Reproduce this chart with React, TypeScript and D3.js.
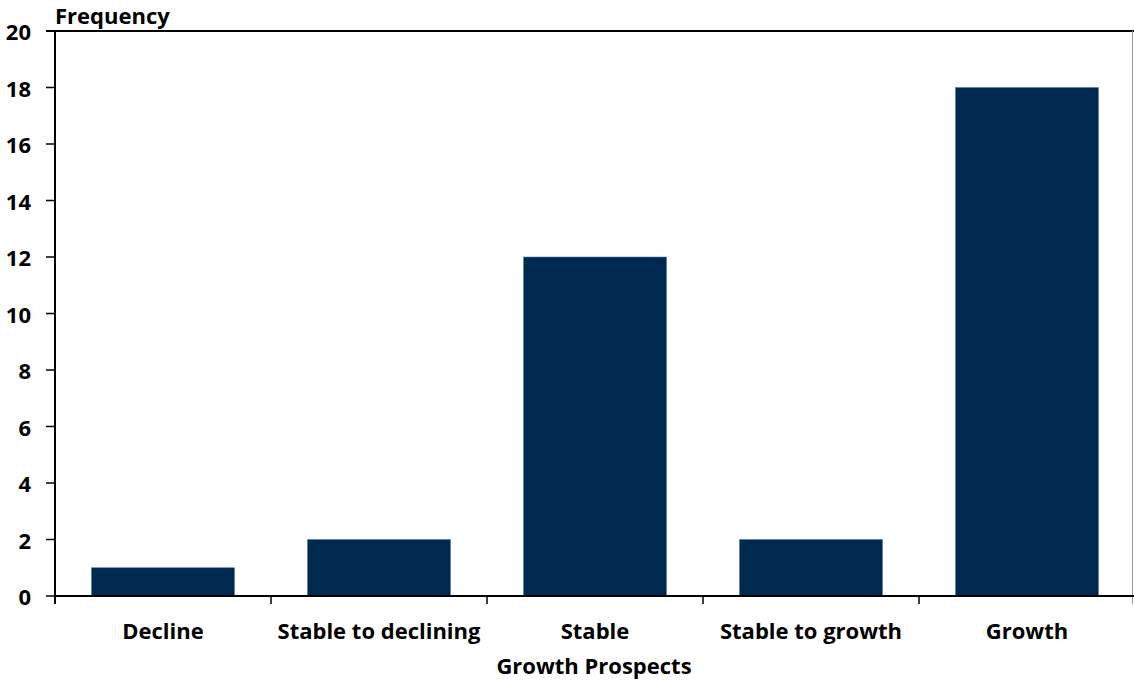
import React from "react";
import * as d3 from "d3";

const categories = ["Decline", "Stable to declining", "Stable", "Stable to growth", "Growth"];
const frequencies = [1, 2, 12, 2, 18];
const yTicks = [0, 2, 4, 6, 8, 10, 12, 14, 16, 18, 20];

const W = 1134;
const H = 681;
const margin = { left: 55, right: -1, top: 31, bottom: 85 };
const FONT = "'Open Sans', Lato, sans-serif";
const FS = 22;

export default function App() {
  const x = d3
    .scaleBand<string>()
    .domain(categories)
    .range([margin.left, W - margin.right])
    .paddingInner(0.338)
    .paddingOuter(0.169);
  const y = d3.scaleLinear().domain([0, 20]).range([H - margin.bottom, margin.top]);
  const step = x.step();
  const x0 = margin.left;
  const yBase = y(0);

  return (
    <svg width={W} height={H} style={{ position: "absolute", left: 0, top: 0, background: "#fff" }}>
      {/* bars */}
      {categories.map((c, i) => (
        <rect
          key={c}
          x={x(c)}
          y={y(frequencies[i])}
          width={x.bandwidth()}
          height={yBase - y(frequencies[i])}
          fill="#002851"
          stroke="#5a7aa0"
          strokeWidth={0.6}
        />
      ))}
      {/* frame: top and right */}
      <line x1={x0 - 9} x2={W} y1={y(20)} y2={y(20)} stroke="#000" strokeWidth={2} />
      <line x1={W - 1.5} x2={W - 1.5} y1={y(20)} y2={yBase + 8} stroke="#999" strokeWidth={1} />
      {/* y axis */}
      <line x1={x0} x2={x0} y1={y(20)} y2={yBase + 8} stroke="#000" strokeWidth={2} />
      {yTicks.map((t) => (
        <g key={t}>
          <line x1={x0 - 9} x2={x0} y1={y(t)} y2={y(t)} stroke="#000" strokeWidth={1.5} />
          <text
            x={31}
            y={y(t)}
            textAnchor="end"
            dominantBaseline="central"
            fontFamily={FONT}
            fontWeight="bold"
            fontSize={FS}
          >
            {t}
          </text>
        </g>
      ))}
      {/* x axis */}
      <line x1={x0} x2={W} y1={yBase} y2={yBase} stroke="#000" strokeWidth={2} />
      {categories.map((c, i) => (
        <line
          key={"t" + i}
          x1={x0 + step * i}
          x2={x0 + step * i}
          y1={yBase}
          y2={yBase + 8}
          stroke="#000"
          strokeWidth={1.5}
        />
      ))}
      {categories.map((c) => (
        <text
          key={"l" + c}
          x={(x(c) as number) + x.bandwidth() / 2}
          y={630}
          textAnchor="middle"
          dominantBaseline="central"
          fontFamily={FONT}
          fontWeight="bold"
          fontSize={FS}
        >
          {c}
        </text>
      ))}
      <text
        x={594}
        y={665}
        textAnchor="middle"
        dominantBaseline="central"
        fontFamily={FONT}
        fontWeight="bold"
        fontSize={FS}
      >
        Growth Prospects
      </text>
      <text x={55} y={15} dominantBaseline="central" fontFamily={FONT} fontWeight="bold" fontSize={FS}>
        Frequency
      </text>
    </svg>
  );
}
